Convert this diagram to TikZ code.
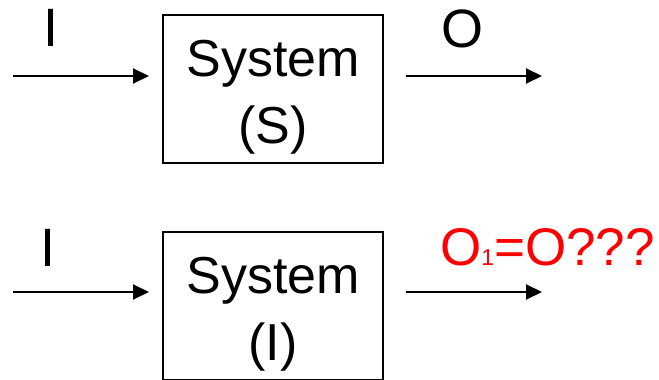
\documentclass[tikz,border=0pt]{standalone}
\usepackage{fontspec}
\setmainfont{Liberation Sans}
\usetikzlibrary{arrows.meta}
\definecolor{qred}{RGB}{255,0,0}
\tikzset{
  sysbox/.style={draw=black, line width=2pt, minimum width=220pt, minimum height=148pt, inner sep=0pt},
  big/.style={font=\fontsize{52}{67}\selectfont, inner sep=0pt, anchor=base},
  lab/.style={font=\fontsize{54}{67}\selectfont, inner sep=0pt, anchor=base},
  arr/.style={line width=2pt, -{Triangle[length=16pt,width=15pt]}}
}
\begin{document}
\begin{tikzpicture}[x=1pt,y=-1pt]
\useasboundingbox (0,0) rectangle (659,380);
% top system
\node[sysbox] (s1) at (273,89) {};
\node[big] (s1a) at (273,76) {System};
\node[big] (s1b) at (273,143) {(S)};
\coordinate (in1s) at (13,76);
\coordinate (in1e) at (149,76);
\coordinate (out1s) at (406,76);
\coordinate (out1e) at (542,76);
\draw[arr] (in1s) -- (in1e);
\draw[arr] (out1s) -- (out1e);
\node[lab] (lin1) at (51,46) {I};
\node[lab] (lout1) at (462,47) {O};
% bottom system
\node[sysbox] (s2) at (273,305.5) {};
\node[big] (s2a) at (273,293) {System};
\node[big] (s2b) at (273,360) {(I)};
\coordinate (in2s) at (13,292);
\coordinate (in2e) at (149,292);
\coordinate (out2s) at (406,292);
\coordinate (out2e) at (542,292);
\draw[arr] (in2s) -- (in2e);
\draw[arr] (out2s) -- (out2e);
\node[lab] (lin2) at (48.5,266) {I};
\node[anchor=base west, inner sep=0pt, font=\fontsize{53}{67}\selectfont, text=qred] (lout2) at (440,265) {O{\fontsize{23}{23}\selectfont 1}=O???};
\end{tikzpicture}
\end{document}
